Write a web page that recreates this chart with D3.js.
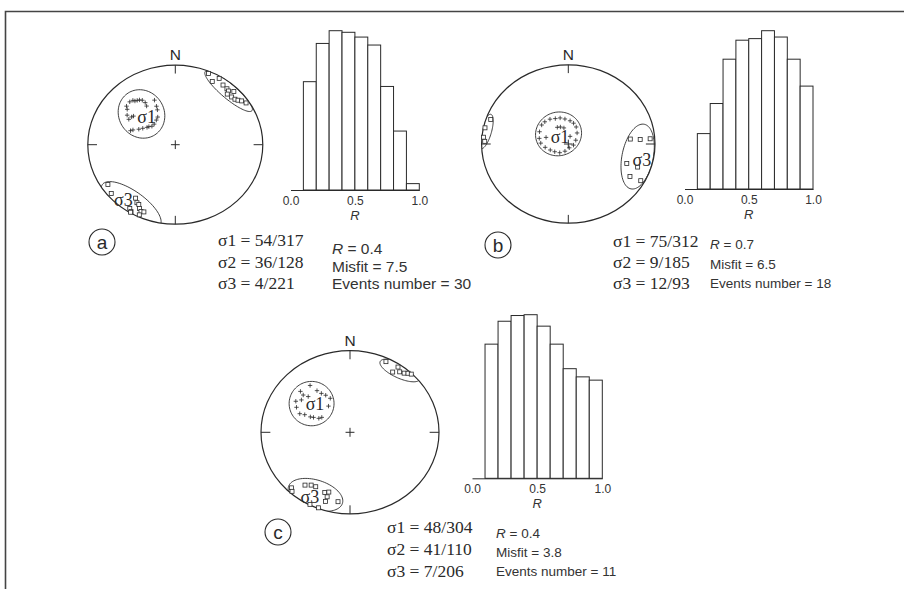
<!DOCTYPE html>
<html><head><meta charset="utf-8">
<script src="https://cdnjs.cloudflare.com/ajax/libs/d3/7.8.5/d3.min.js"></script>
<style>body{margin:0;background:#fff}svg{display:block}</style>
</head><body>
<svg id="fig" width="904" height="589"></svg>
<script>
// Stress inversion results, orientations as [plunge, trend] in degrees
const panelIds = ["a", "b", "c"];
const bestSigma1 = [[54, 317], [75, 312], [48, 304]];
const bestSigma2 = [[36, 128], [9, 185], [41, 110]];
const bestSigma3 = [[4, 221], [12, 93], [7, 206]];
const ratioR = [0.4, 0.7, 0.4];
const misfit = [7.5, 6.5, 3.8];
const eventCount = [30, 18, 11];

// Accepted solutions: sigma1 axes (crosses) and sigma3 axes (squares)
const sigma1Sols = [
  [[26,316],[27,319],[29,320],[30,322],[31,324],[33,326],[37,327],[41,326],[39,337],[46,336],
   [27,311],[30,309],[34,304],[38,301],[39,305],[40,307],[50,335],[57,330],[59,325],[45,289],
   [47,291],[52,295],[55,299],[58,304],[59,307],[61,311],[61,317]],
  [[58,308],[58,316],[59,326],[61,335],[62,344],[64,353],[66,4],[68,13],[71,23],[76,36],
   [82,61],[85,103],[86,167],[82,203],[78,222],[75,238],[72,250],[68,261],[64,272],[62,282],
   [60,295],[70,329],[71,337],[73,346],[68,288],[82,12]],
  [[28,322],[26,312],[31,311],[37,324],[42,326],[46,329],[51,332],[57,323],[60,300],[58,296],
   [53,294],[50,293],[44,293],[39,292],[33,297],[29,302],[33,306],[36,313]]
];
const sigma3Sols = [
  [[9,237],[5,230],[5,213],[2,211],[1,211],[20,214],[16,211],[15,209],[11,207],[8,205],[9,203],[3,205],
   [3,23],[11,28],[3,31],[8,36],[9,40],[10,42],[14,43],[6,45],[13,47],[12,50],[10,52],[7,54],[4,57]],
  [[29,85],[18,86],[6,86],[29,110],[16,110],[19,120],[5,119],
   [6,289],[2,282],[2,275],[4,272]],
  [[6,224],[3,222],[19,218],[23,214],[24,210],[22,201],[24,198],[18,198],[12,198],[15,189],[1,207],[1,201],
   [5,25],[4,34],[13,33],[8,37],[6,40],[3,42],[1,44]]
];

// Histograms of the stress ratio R (relative frequency per 0.1 bin)
const rBinStart = [0.1, 0.2, 0.3, 0.4, 0.5, 0.6, 0.7, 0.8, 0.9];
const rFreqA = [0.68, 0.92, 1.00, 0.99, 0.96, 0.91, 0.65, 0.37, 0.04];
const rFreqB = [0.35, 0.54, 0.82, 0.94, 0.95, 1.00, 0.96, 0.82, 0.65];
const rFreqC = [0.82, 0.96, 0.995, 1.00, 0.93, 0.82, 0.67, 0.62, 0.60];
const rFreq = [rFreqA, rFreqB, rFreqC];
const rTicks = [0, 0.5, 1];

// ---------- layout ----------
const layout = [
  { net: {cx: 175.3, cy: 144.7, rx: 87.5, ry: 79.5},
    hist: {x0: 290.5, x1: 419.3, base: 190, top: 30.7},
    tag: {x: 102, y: 242}, stress: {x: 218, y: 246, dy: 21.5},
    stats: {x: 332, y: 254, dy: 17.5, size: 15.5},
    nudge1: [-2.5, -2.6], nudge3: [3.4, -2.4] },
  { net: {cx: 568.3, cy: 144, rx: 86.7, ry: 79.2},
    hist: {x0: 684.5, x1: 813, base: 189, top: 30.7},
    tag: {x: 498, y: 245}, stress: {x: 613, y: 247, dy: 21},
    stats: {x: 710, y: 249, dy: 19.5, size: 13.5},
    nudge1: [3.6, 2.4], nudge3: [-3.4, 12.3] },
  { net: {cx: 350, cy: 432.3, rx: 89, ry: 81.6},
    hist: {x0: 472, x1: 602.3, base: 478.3, top: 314.7},
    tag: {x: 278, y: 532}, stress: {x: 387, y: 533, dy: 22},
    stats: {x: 496, y: 538, dy: 19, size: 13.5},
    nudge1: [2.4, -5.9], nudge3: [-3.5, -4.2] }
];

const ink = "#2a2a2a";
const serif = "'Liberation Serif','Times New Roman',serif";
const sans = "'Liberation Sans',Arial,sans-serif";
const svg = d3.select("#fig");
const toRad = Math.PI / 180;

// figure frame (top and left rules)
svg.append("path").attr("d", "M5.5,589V11.5H904")
  .attr("fill", "none").attr("stroke", "#444").attr("stroke-width", 1.6);

// lower-hemisphere Lambert equal-area projection onto the unit disc
function lambert([plunge, trend]) {
  const r = Math.SQRT2 * Math.sin((90 - plunge) / 2 * toRad);
  return [r * Math.sin(trend * toRad), r * Math.cos(trend * toRad)];
}
function dirCos([p, t]) {
  return [Math.cos(p * toRad) * Math.sin(t * toRad), Math.cos(p * toRad) * Math.cos(t * toRad), Math.sin(p * toRad)];
}

// smallest covariance-shaped ellipse holding all points, padded
function confidenceOutline(pts, pad) {
  const n = pts.length;
  const mx = d3.mean(pts, d => d[0]), my = d3.mean(pts, d => d[1]);
  let sxx = 0, syy = 0, sxy = 0;
  pts.forEach(([x, y]) => { sxx += (x - mx) ** 2; syy += (y - my) ** 2; sxy += (x - mx) * (y - my); });
  const th = 0.5 * Math.atan2(2 * sxy, sxx - syy);
  const c = Math.cos(th), s = Math.sin(th);
  let l1 = 0, l2 = 0;
  const rot = pts.map(([x, y]) => [(x - mx) * c + (y - my) * s, -(x - mx) * s + (y - my) * c]);
  rot.forEach(([p, q]) => { l1 += p * p; l2 += q * q; });
  l1 = Math.max(l1 / n, 1); l2 = Math.max(l2 / n, 1);
  let k = 0;
  rot.forEach(([p, q]) => { k = Math.max(k, Math.sqrt(p * p / l1 + q * q / l2)); });
  const a = k * Math.sqrt(l1) + pad, b = k * Math.sqrt(l2) + pad;
  return d3.range(0, 360, 4).map(deg => {
    const w = deg * toRad, ex = a * Math.cos(w), ey = b * Math.sin(w);
    return [mx + ex * c - ey * s, my + ex * s + ey * c];
  });
}

const outlineLine = d3.line().curve(d3.curveCardinalClosed);

panelIds.forEach((id, i) => {
  const L = layout[i];
  const g = svg.append("g");

  // ---------- stereonet ----------
  const N = L.net;
  const x = d3.scaleLinear().domain([-1, 1]).range([N.cx - N.rx, N.cx + N.rx]);
  const y = d3.scaleLinear().domain([-1, 1]).range([N.cy + N.ry, N.cy - N.ry]);
  const proj = d => { const [u, v] = lambert(d); return [x(u), y(v)]; };

  svg.append("clipPath").attr("id", "net-" + id)
    .append("ellipse").attr("cx", x(0)).attr("cy", y(0))
    .attr("rx", x(1) - x(0)).attr("ry", y(-1) - y(0));

  // confidence outlines: sigma1 cluster, sigma3 cluster and its antipodal wrap
  const s3dir = dirCos(bestSigma3[i]);
  const near = [], far = [];
  sigma3Sols[i].forEach(d => {
    const v = dirCos(d);
    (v[0] * s3dir[0] + v[1] * s3dir[1] + v[2] * s3dir[2] >= 0 ? near : far).push(d);
  });
  const groups = [sigma1Sols[i].concat([bestSigma1[i]]), near.concat([bestSigma3[i]])];
  if (far.length) groups.push(far);
  const cont = g.append("g").attr("clip-path", `url(#net-${id})`);
  groups.forEach(grp => {
    cont.append("path").attr("d", outlineLine(confidenceOutline(grp.map(proj), 3)))
      .attr("fill", "none").attr("stroke", ink).attr("stroke-width", 0.9);
  });

  // primitive circle
  g.append("ellipse").attr("cx", x(0)).attr("cy", y(0))
    .attr("rx", x(1) - x(0)).attr("ry", y(-1) - y(0))
    .attr("fill", "none").attr("stroke", ink).attr("stroke-width", 1.2);

  // cardinal ticks and centre cross
  const tk = 0.105;
  [[0, 1, 0, 1 - tk], [0, -1, 0, -1 + tk], [1, 0, 1 - tk, 0], [-1, 0, -1 + tk, 0],
   [-0.05, 0, 0.05, 0], [0, -0.055, 0, 0.055]].forEach(([a, b, c, d]) => {
    g.append("line").attr("x1", x(a)).attr("y1", y(b)).attr("x2", x(c)).attr("y2", y(d))
      .attr("stroke", ink).attr("stroke-width", 1);
  });
  g.append("text").attr("x", x(0)).attr("y", y(1) - 5).attr("text-anchor", "middle")
    .attr("font-family", sans).attr("font-size", 15.5).attr("fill", ink).text("N");

  // sigma3 squares
  g.append("g").selectAll("rect").data(sigma3Sols[i]).join("rect")
    .attr("x", d => proj(d)[0] - 2).attr("y", d => proj(d)[1] - 2)
    .attr("width", 4).attr("height", 4)
    .attr("fill", "#fff").attr("stroke", ink).attr("stroke-width", 0.8);
  // sigma1 crosses
  g.append("g").selectAll("path").data(sigma1Sols[i]).join("path")
    .attr("d", d => { const [px, py] = proj(d); return `M${px - 2.2},${py}h4.4M${px},${py - 2.2}v4.4`; })
    .attr("stroke", ink).attr("stroke-width", 0.8);

  // best-fit axis labels
  [[bestSigma1[i], "σ1", L.nudge1], [bestSigma3[i], "σ3", L.nudge3]].forEach(([d, t, nd]) => {
    const [px, py] = proj(d);
    g.append("text").attr("x", px + nd[0]).attr("y", py + nd[1]).attr("dy", "0.35em")
      .attr("text-anchor", "middle").attr("font-family", serif).attr("font-size", 18)
      .attr("fill", ink).text(t);
  });

  // ---------- R histogram ----------
  const H = L.hist;
  const hx = d3.scaleLinear().domain([0, 1]).range([H.x0, H.x1]);
  const hy = d3.scaleLinear().domain([0, 1]).range([H.base, H.top]);
  g.append("g").selectAll("rect").data(rBinStart.map((b, j) => [b, rFreq[i][j]])).join("rect")
    .attr("x", d => hx(d[0])).attr("width", d => hx(d[0] + 0.1) - hx(d[0]))
    .attr("y", d => hy(d[1])).attr("height", d => hy(0) - hy(d[1]))
    .attr("fill", "#fff").attr("stroke", ink).attr("stroke-width", 1);
  const axis = d3.axisBottom(hx).tickValues(rTicks).tickFormat(d3.format(".1f")).tickSize(0).tickPadding(6);
  const ax = g.append("g").attr("transform", `translate(0,${H.base})`).call(axis);
  ax.select(".domain").attr("stroke", ink).attr("stroke-width", 1);
  ax.selectAll("text").attr("font-family", sans).attr("font-size", 12).attr("fill", "#333");
  g.append("text").attr("x", hx(0.5)).attr("y", H.base + 30).attr("text-anchor", "middle")
    .attr("font-family", sans).attr("font-size", 13).attr("font-style", "italic").attr("fill", "#333").text("R");

  // ---------- panel tag ----------
  g.append("circle").attr("cx", L.tag.x).attr("cy", L.tag.y).attr("r", 13)
    .attr("fill", "none").attr("stroke", ink).attr("stroke-width", 1.1);
  g.append("text").attr("x", L.tag.x).attr("y", L.tag.y).attr("dy", "0.35em").attr("text-anchor", "middle")
    .attr("font-family", sans).attr("font-size", 19).attr("fill", ink).text(id);

  // ---------- principal stress axes ----------
  [bestSigma1[i], bestSigma2[i], bestSigma3[i]].forEach((d, j) => {
    g.append("text").attr("x", L.stress.x).attr("y", L.stress.y + j * L.stress.dy)
      .attr("font-family", serif).attr("font-size", 17.5).attr("fill", ink)
      .text(`σ${j + 1} = ${d[0]}/${d[1]}`);
  });

  // ---------- fit statistics ----------
  const st = g.append("g").attr("font-family", sans).attr("font-size", L.stats.size).attr("fill", "#333");
  const t0 = st.append("text").attr("x", L.stats.x).attr("y", L.stats.y);
  t0.append("tspan").attr("font-style", "italic").text("R");
  t0.append("tspan").text(` = ${ratioR[i]}`);
  st.append("text").attr("x", L.stats.x).attr("y", L.stats.y + L.stats.dy).text(`Misfit = ${misfit[i]}`);
  st.append("text").attr("x", L.stats.x).attr("y", L.stats.y + 2 * L.stats.dy).text(`Events number = ${eventCount[i]}`);
});
</script>
</body></html>
